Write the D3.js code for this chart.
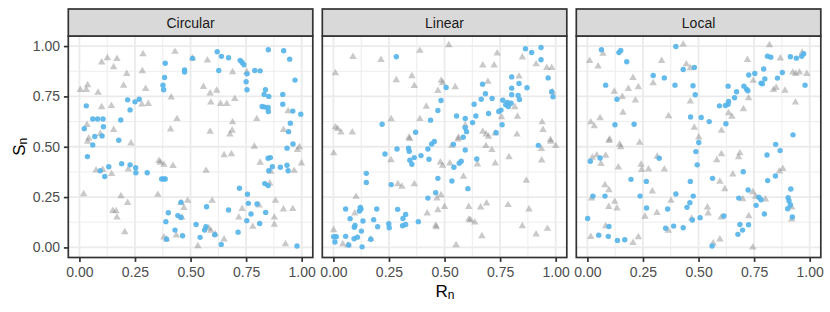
<!DOCTYPE html>
<html>
<head>
<meta charset="utf-8">
<script src="https://cdn.jsdelivr.net/npm/d3@7"></script>
<style>
  body { margin: 0; background: #fff; }
  svg { display: block; font-family: "Liberation Sans", Arial, sans-serif; }
</style>
</head>
<body>
<div id="chart"></div>
<script>
// facet titles
var facets = ["Circular", "Linear", "Local"];
var tickValues = [0, 0.25, 0.5, 0.75, 1];
var minorValues = [0.125, 0.375, 0.625, 0.875];

// [Rn, Sn] pairs
var circularBlue = [[0.031,0.703],[0.022,0.590],[0.060,0.638],[0.082,0.638],[0.106,0.638],[0.108,0.599],[0.069,0.551],[0.102,0.554],[0.186,0.633],[0.217,0.733],[0.228,0.683],[0.250,0.723],[0.269,0.736],[0.386,0.915],[0.383,0.844],[0.376,0.806],[0.379,0.783],[0.473,0.882],[0.473,0.871],[0.509,0.939],[0.620,0.972],[0.639,0.949],[0.671,0.942],[0.627,0.879],[0.723,0.929],[0.732,0.919],[0.740,0.907],[0.754,0.862],[0.750,0.823],[0.754,0.783],[0.789,0.879],[0.813,0.877],[0.850,0.982],[0.837,0.783],[0.831,0.760],[0.852,0.750],[0.822,0.700],[0.834,0.697],[0.849,0.695],[0.850,0.675],[0.919,0.977],[0.946,0.935],[0.970,0.831],[0.915,0.760],[0.915,0.711],[0.960,0.677],[0.996,0.662],[0.949,0.617],[0.941,0.575],[0.177,0.532],
  [0.060,0.509],[0.036,0.451],[0.094,0.381],[0.114,0.352],[0.132,0.401],[0.190,0.416],[0.228,0.410],[0.253,0.396],[0.254,0.371],[0.305,0.371],[0.370,0.340],[0.379,0.340],[0.386,0.340],[0.961,0.514],[0.934,0.493],[0.849,0.443],[0.859,0.446],[0.868,0.401],[0.852,0.381],[0.904,0.398],[0.934,0.408],[0.939,0.381],[0.834,0.317],[0.849,0.307],[0.720,0.294],[0.756,0.264],[0.760,0.219],[0.799,0.216],[0.838,0.174],[0.772,0.166],[0.753,0.133],[0.811,0.119],[0.714,0.076],[0.671,0.186],[0.572,0.202],[0.457,0.224],[0.400,0.172],[0.389,0.128],[0.443,0.158],[0.457,0.149],[0.430,0.086],[0.464,0.058],[0.392,0.041],[0.525,0.114],[0.569,0.103],[0.563,0.086],[0.543,0.050],[0.609,0.063],[0.638,0.015],[0.979,0.007]];
var circularGrey = [[0.004,0.783],[0.031,0.783],[0.037,0.806],[0.084,0.769],[0.100,0.919],[0.126,0.940],[0.169,0.937],[0.154,0.896],[0.213,0.862],[0.199,0.804],[0.286,0.960],[0.283,0.876],[0.298,0.788],[0.430,0.972],[0.509,0.939],[0.576,0.929],[0.689,0.871],[0.753,0.871],[0.558,0.798],[0.618,0.779],[0.588,0.765],[0.413,0.745],[0.591,0.720],[0.635,0.713],[0.663,0.713],[0.699,0.738],[0.100,0.697],[0.144,0.703],[0.281,0.710],[0.310,0.713],[0.439,0.638],[0.689,0.622],[0.798,0.638],[0.939,0.677],[0.034,0.609],[0.410,0.587],[0.588,0.575],[0.687,0.580],[0.918,0.584],[0.154,0.584],[0.677,0.562],
  [0.042,0.542],[0.037,0.526],[0.094,0.564],[0.232,0.517],[0.787,0.501],[0.651,0.459],[0.684,0.464],[0.990,0.498],[0.981,0.484],[0.999,0.418],[0.813,0.421],[0.861,0.376],[0.966,0.381],[0.856,0.318],[0.358,0.430],[0.364,0.421],[0.380,0.411],[0.421,0.405],[0.570,0.381],[0.075,0.383],[0.105,0.385],[0.145,0.365],[0.220,0.388],[0.019,0.265],[0.187,0.255],[0.217,0.222],[0.150,0.182],[0.165,0.181],[0.169,0.149],[0.204,0.076],[0.353,0.262],[0.487,0.232],[0.457,0.222],[0.470,0.197],[0.461,0.149],[0.597,0.232],[0.732,0.192],[0.808,0.209],[0.882,0.232],[0.918,0.189],[0.960,0.191],[0.717,0.149],[0.877,0.149],[0.877,0.114],[0.780,0.103],[0.380,0.050],[0.392,0.040],[0.436,0.060],[0.533,0.007],[0.582,0.095],[0.591,0.083],[0.611,0.066],[0.651,0.040],[0.927,0.017]];

var linearBlue = [[0.283,0.947],[0.864,0.987],[0.892,0.968],[0.934,0.993],[0.934,0.932],[0.966,0.842],[0.982,0.774],[0.988,0.748],[0.802,0.847],[0.835,0.814],[0.871,0.793],[0.802,0.791],[0.802,0.758],[0.831,0.755],[0.837,0.735],[0.671,0.811],[0.684,0.763],[0.714,0.740],[0.665,0.736],[0.633,0.711],[0.641,0.653],[0.762,0.731],[0.775,0.708],[0.787,0.700],[0.799,0.716],[0.783,0.720],[0.744,0.675],[0.754,0.682],[0.698,0.665],[0.554,0.653],[0.593,0.640],[0.626,0.620],[0.593,0.594],[0.759,0.609],[0.507,0.794],[0.484,0.730],[0.470,0.680],[0.437,0.632],[0.219,0.612],[0.370,0.572],
  [0.599,0.575],[0.584,0.547],[0.732,0.570],[0.454,0.526],[0.442,0.514],[0.540,0.512],[0.232,0.464],[0.286,0.489],[0.338,0.493],[0.341,0.478],[0.394,0.456],[0.364,0.446],[0.344,0.433],[0.353,0.413],[0.425,0.489],[0.430,0.438],[0.593,0.484],[0.645,0.439],[0.566,0.418],[0.575,0.428],[0.542,0.398],[0.922,0.507],[0.148,0.368],[0.148,0.323],[0.260,0.312],[0.470,0.343],[0.533,0.330],[0.605,0.292],[0.460,0.272],[0.425,0.245],[0.055,0.191],[0.121,0.199],[0.124,0.191],[0.117,0.181],[0.195,0.191],[0.289,0.189],[0.325,0.164],[0.313,0.144],[0.075,0.143],[0.133,0.131],[0.181,0.138],[0.097,0.109],[0.094,0.100],[0.126,0.081],[0.199,0.103],[0.249,0.118],[0.251,0.098],[0.311,0.108],[0.325,0.114],[0.382,0.128],[0.001,0.053],[0.013,0.053],[0.007,0.027],[0.055,0.055],[0.069,0.012],[0.093,0.043],[0.108,0.051],[0.129,0.003],[0.168,0.041]];
var linearGrey = [[0.088,0.947],[0.214,0.932],[0.389,0.977],[0.519,1.005],[0.737,0.964],[0.672,0.904],[0.723,0.904],[0.850,0.944],[0.912,0.910],[0.960,0.892],[0.982,0.892],[0.009,0.866],[0.283,0.831],[0.353,0.851],[0.364,0.803],[0.485,0.829],[0.491,0.816],[0.548,0.796],[0.470,0.778],[0.695,0.823],[0.835,0.849],[0.985,0.772],[0.418,0.700],[0.389,0.638],[0.260,0.637],[0.816,0.697],[0.828,0.650],[0.756,0.647],[0.939,0.622],[0.943,0.584],[0.009,0.597],[0.019,0.589],[0.034,0.572],[0.085,0.572],[0.593,0.607],[0.340,0.546],[0.563,0.546],[0.672,0.575],[0.687,0.562],[0.698,0.551],[0.728,0.567],[0.826,0.561],[0.976,0.534],
  [0.001,0.468],[0.343,0.539],[0.533,0.506],[0.561,0.537],[0.686,0.504],[0.713,0.484],[0.790,0.449],[0.936,0.489],[0.937,0.433],[0.978,0.526],[1.000,0.504],[0.259,0.434],[0.481,0.423],[0.491,0.406],[0.524,0.418],[0.648,0.413],[0.728,0.418],[0.585,0.352],[0.290,0.315],[0.308,0.302],[0.364,0.315],[0.868,0.332],[0.102,0.252],[0.466,0.244],[0.484,0.260],[0.096,0.169],[0.422,0.169],[0.470,0.186],[0.500,0.202],[0.609,0.202],[0.662,0.199],[0.689,0.219],[0.786,0.211],[0.880,0.189],[0.609,0.139],[0.617,0.136],[0.636,0.124],[0.460,0.109],[0.463,0.101],[0.850,0.106],[0.963,0.093],[0.912,0.065],[0.668,0.056],[0.001,0.086],[0.042,0.017],[0.066,0.012],[0.552,0.012],[0.168,0.041]];

var localBlue = [[0.063,0.982],[0.142,0.968],[0.150,0.978],[0.177,0.922],[0.398,0.998],[0.431,0.884],[0.481,0.894],[0.296,0.854],[0.346,0.842],[0.082,0.806],[0.394,0.806],[0.475,0.803],[0.485,0.758],[0.133,0.736],[0.124,0.609],[0.210,0.612],[0.464,0.648],[0.512,0.645],[0.548,0.625],[0.623,0.614],[0.594,0.703],[0.621,0.705],[0.635,0.725],[0.633,0.711],[0.662,0.743],[0.671,0.773],[0.633,0.801],[0.704,0.801],[0.716,0.786],[0.722,0.778],[0.726,0.856],[0.753,0.864],[0.781,0.816],[0.787,0.813],[0.798,0.837],[0.793,0.886],[0.810,0.950],[0.825,0.945],[0.855,0.841],[0.877,0.869],[0.913,0.947],[0.940,0.940],[0.964,0.949],[0.973,0.962],[0.979,0.806],[0.925,0.559],
  [0.501,0.521],[0.488,0.476],[0.494,0.410],[0.323,0.443],[0.057,0.444],[0.013,0.428],[0.847,0.512],[0.867,0.481],[0.808,0.459],[0.701,0.376],[0.563,0.343],[0.463,0.328],[0.265,0.328],[0.196,0.338],[0.811,0.332],[0.846,0.355],[0.915,0.290],[0.723,0.285],[0.025,0.255],[0.079,0.255],[0.237,0.255],[0.398,0.265],[0.476,0.255],[0.461,0.222],[0.448,0.199],[0.361,0.191],[0.266,0.196],[0.681,0.245],[0.771,0.249],[0.781,0.237],[0.759,0.209],[0.796,0.166],[0.903,0.247],[0.907,0.231],[0.913,0.211],[0.901,0.192],[0.922,0.151],[0.001,0.144],[0.097,0.104],[0.352,0.095],[0.388,0.106],[0.431,0.098],[0.472,0.136],[0.507,0.148],[0.614,0.156],[0.686,0.114],[0.725,0.113],[0.698,0.086],[0.677,0.065],[0.051,0.061],[0.094,0.055],[0.135,0.035],[0.168,0.038],[0.561,0.007]];
var localGrey = [[0.070,0.962],[0.431,1.008],[0.819,1.005],[0.010,0.927],[0.048,0.899],[0.334,0.927],[0.720,0.932],[0.868,0.939],[0.966,0.968],[0.445,0.910],[0.463,0.891],[0.205,0.842],[0.184,0.788],[0.229,0.796],[0.296,0.816],[0.121,0.774],[0.157,0.748],[0.216,0.730],[0.160,0.670],[0.463,0.725],[0.365,0.652],[0.057,0.642],[0.015,0.622],[0.031,0.602],[0.481,0.595],[0.501,0.547],[0.100,0.537],[0.603,0.580],[0.635,0.667],[0.650,0.650],[0.702,0.687],[0.725,0.741],[0.746,0.828],[0.837,0.783],[0.849,0.793],[0.889,0.779],[0.936,0.720],[0.924,0.869],[0.937,0.862],[0.954,0.869],[0.987,0.862],
  [0.097,0.529],[0.145,0.512],[0.150,0.498],[0.235,0.521],[0.042,0.458],[0.022,0.446],[0.061,0.415],[0.082,0.456],[0.139,0.398],[0.241,0.411],[0.244,0.385],[0.275,0.388],[0.314,0.451],[0.346,0.388],[0.582,0.434],[0.603,0.464],[0.680,0.448],[0.686,0.468],[0.654,0.363],[0.864,0.378],[0.879,0.390],[0.596,0.327],[0.618,0.290],[0.079,0.310],[0.097,0.285],[0.292,0.279],[0.019,0.244],[0.123,0.227],[0.096,0.202],[0.133,0.194],[0.376,0.232],[0.313,0.172],[0.259,0.153],[0.469,0.144],[0.540,0.199],[0.543,0.169],[0.602,0.149],[0.699,0.240],[0.744,0.275],[0.757,0.252],[0.801,0.239],[0.726,0.156],[0.919,0.199],[0.919,0.139],[0.364,0.083],[0.015,0.053],[0.082,0.106],[0.205,0.023],[0.229,0.051],[0.566,0.020],[0.596,0.040],[0.744,0.000]];

var blueByFacet = [circularBlue, linearBlue, localBlue];
var greyByFacet = [circularGrey, linearGrey, localGrey];

var width = 830, height = 312;
var panelLefts = [68.3, 322.3, 576.3];
var panelW = 244.5;
var panelTop = 36, panelBottom = 257.5;
var stripTop = 9;
var border = "#333333";

var svg = d3.select("#chart").append("svg")
  .attr("width", width)
  .attr("height", height);

var yScale = d3.scaleLinear().domain([-0.05, 1.05]).range([panelBottom, panelTop]);

var tri = d3.symbol().type(d3.symbolTriangle).size(24);

for (var i = 0; i < facets.length; i++) {
  var left = panelLefts[i];
  var xScale = d3.scaleLinear().domain([-0.05, 1.05]).range([left, left + panelW]);
  var g = svg.append("g").attr("class", "panel");

  g.append("rect")
    .attr("x", left).attr("y", panelTop)
    .attr("width", panelW).attr("height", panelBottom - panelTop)
    .attr("fill", "#fff");

  // grid, minor first
  g.selectAll(".vminor").data(minorValues).enter().append("line")
    .attr("x1", function (d) { return xScale(d); })
    .attr("x2", function (d) { return xScale(d); })
    .attr("y1", panelTop).attr("y2", panelBottom)
    .attr("stroke", "#EBEBEB").attr("stroke-width", 0.9);
  g.selectAll(".hminor").data(minorValues).enter().append("line")
    .attr("x1", left).attr("x2", left + panelW)
    .attr("y1", function (d) { return yScale(d); })
    .attr("y2", function (d) { return yScale(d); })
    .attr("stroke", "#EBEBEB").attr("stroke-width", 0.9);
  g.selectAll(".vmajor").data(tickValues).enter().append("line")
    .attr("x1", function (d) { return xScale(d); })
    .attr("x2", function (d) { return xScale(d); })
    .attr("y1", panelTop).attr("y2", panelBottom)
    .attr("stroke", "#EBEBEB").attr("stroke-width", 1.8);
  g.selectAll(".hmajor").data(tickValues).enter().append("line")
    .attr("x1", left).attr("x2", left + panelW)
    .attr("y1", function (d) { return yScale(d); })
    .attr("y2", function (d) { return yScale(d); })
    .attr("stroke", "#EBEBEB").attr("stroke-width", 1.8);

  // grey triangles
  g.append("g").selectAll("path").data(greyByFacet[i]).enter().append("path")
    .attr("d", tri)
    .attr("transform", function (d) { return "translate(" + xScale(d[0]) + "," + yScale(d[1]) + ")"; })
    .attr("fill", "#7F7F7F")
    .attr("fill-opacity", 0.42);

  // blue points
  g.append("g").selectAll("circle").data(blueByFacet[i]).enter().append("circle")
    .attr("cx", function (d) { return xScale(d[0]); })
    .attr("cy", function (d) { return yScale(d[1]); })
    .attr("r", 2.7)
    .attr("fill", "#56B4E9")
    .attr("fill-opacity", 0.92);

  // panel border
  g.append("rect")
    .attr("x", left).attr("y", panelTop)
    .attr("width", panelW).attr("height", panelBottom - panelTop)
    .attr("fill", "none").attr("stroke", border).attr("stroke-width", 1.7);

  // strip
  g.append("rect")
    .attr("x", left).attr("y", stripTop)
    .attr("width", panelW).attr("height", panelTop - stripTop)
    .attr("fill", "#D9D9D9").attr("stroke", border).attr("stroke-width", 1.7);
  g.append("text")
    .attr("x", left + panelW / 2).attr("y", 28)
    .attr("text-anchor", "middle")
    .attr("font-size", "14px")
    .attr("fill", "#1A1A1A")
    .text(facets[i]);

  // x axis
  var xAxis = svg.append("g")
    .attr("transform", "translate(0," + panelBottom + ")")
    .call(d3.axisBottom(xScale).tickValues(tickValues).tickFormat(d3.format(".2f"))
      .tickSize(4.4).tickSizeOuter(0).tickPadding(5.4));
  xAxis.select(".domain").remove();
  xAxis.selectAll("line").attr("stroke", border).attr("stroke-width", 1.7);
  xAxis.selectAll("text").attr("fill", "#4D4D4D").attr("font-size", "14px")
    .attr("font-family", "Liberation Sans, Arial, sans-serif");
}

// y axis only on the first panel
var yAxis = svg.append("g")
  .attr("transform", "translate(" + panelLefts[0] + ",0)")
  .call(d3.axisLeft(yScale).tickValues(tickValues).tickFormat(d3.format(".2f"))
    .tickSize(4.4).tickSizeOuter(0).tickPadding(3.8));
yAxis.select(".domain").remove();
yAxis.selectAll("line").attr("stroke", border).attr("stroke-width", 1.7);
yAxis.selectAll("text").attr("fill", "#4D4D4D").attr("font-size", "14px")
  .attr("font-family", "Liberation Sans, Arial, sans-serif");

// axis titles
var xTitle = svg.append("text")
  .attr("x", 445).attr("y", 296.7)
  .attr("text-anchor", "middle")
  .attr("font-size", "17px")
  .attr("fill", "#000");
xTitle.append("tspan").text("R");
xTitle.append("tspan").attr("font-size", "12px").attr("dy", 2).text("n");

var yTitle = svg.append("text")
  .attr("transform", "translate(24.5," + ((panelTop + panelBottom) / 2) + ") rotate(-90)")
  .attr("text-anchor", "middle")
  .attr("font-size", "17px")
  .attr("fill", "#000");
yTitle.append("tspan").text("S");
yTitle.append("tspan").attr("font-size", "12px").attr("dy", 2).text("n");
</script>
</body>
</html>
